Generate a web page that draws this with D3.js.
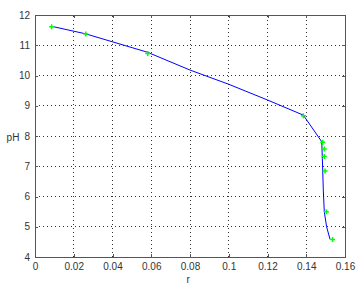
<!DOCTYPE html>
<html>
<head>
<meta charset="utf-8">
<script src="https://cdn.jsdelivr.net/npm/d3@7"></script>
<style>
body { margin: 0; background: #fff; }
svg text { font-family: "Liberation Sans", Arial, sans-serif; font-size: 10px; fill: #333; }
</style>
</head>
<body>
<div id="chart"></div>
<script>
// measured points (green markers)
var rData = [0.0086, 0.0262, 0.0582, 0.1385, 0.1485, 0.1493, 0.1493, 0.1497, 0.1504, 0.1536];
var phData = [11.61, 11.37, 10.73, 8.67, 7.79, 7.57, 7.32, 6.84, 5.50, 4.58];

// fitted curve (blue line)
var rFit = [0.009, 0.026, 0.058, 0.08, 0.1, 0.12, 0.1385, 0.148, 0.1483, 0.1488, 0.1493, 0.1505, 0.1523];
var phFit = [11.62, 11.38, 10.77, 10.18, 9.71, 9.19, 8.69, 7.81, 7.26, 6.21, 5.50, 5.0, 4.58];

var xTicks = [0, 0.02, 0.04, 0.06, 0.08, 0.1, 0.12, 0.14, 0.16];
var yTicks = [4, 5, 6, 7, 8, 9, 10, 11, 12];

var width = 357, height = 286;
var margin = {left: 35, top: 15, right: 12, bottom: 29};

var svg = d3.select("#chart").append("svg")
    .attr("width", width)
    .attr("height", height);

var x = d3.scaleLinear().domain([0, 0.16]).range([margin.left, width - margin.right]);
var y = d3.scaleLinear().domain([4, 12]).range([height - margin.bottom, margin.top]);

// grid
var grid = svg.append("g");
grid.selectAll(".vgrid")
    .data(xTicks.slice(1, -1))
    .enter().append("line")
    .attr("x1", function(d){ return x(d); })
    .attr("x2", function(d){ return x(d); })
    .attr("y1", y(4)).attr("y2", y(12))
    .attr("stroke", "#333").attr("stroke-width", 1)
    .attr("stroke-dasharray", "1,3")
    .attr("shape-rendering", "crispEdges");
grid.selectAll(".hgrid")
    .data(yTicks.slice(1, -1))
    .enter().append("line")
    .attr("y1", function(d){ return y(d); })
    .attr("y2", function(d){ return y(d); })
    .attr("x1", x(0)).attr("x2", x(0.16))
    .attr("stroke", "#333").attr("stroke-width", 1)
    .attr("stroke-dasharray", "1,3")
    .attr("shape-rendering", "crispEdges");

// axes (ticks inside, like matlab)
var xAxis = svg.append("g")
    .attr("transform", "translate(0," + y(4) + ")")
    .call(d3.axisBottom(x).tickValues(xTicks).tickSizeInner(-3).tickSizeOuter(0).tickPadding(6)
        .tickFormat(function(d){ return d3.format("")(+d.toFixed(2)); }));
var yAxis = svg.append("g")
    .attr("transform", "translate(" + x(0) + ",0)")
    .call(d3.axisLeft(y).tickValues(yTicks).tickSizeInner(-3).tickSizeOuter(0).tickPadding(5));
var xTop = svg.append("g")
    .attr("transform", "translate(0," + y(12) + ")")
    .call(d3.axisTop(x).tickValues(xTicks).tickSizeInner(-3).tickSizeOuter(0).tickFormat(""));
var yRight = svg.append("g")
    .attr("transform", "translate(" + x(0.16) + ",0)")
    .call(d3.axisRight(y).tickValues(yTicks).tickSizeInner(-3).tickSizeOuter(0).tickFormat(""));

[xAxis, yAxis, xTop, yRight].forEach(function(a){
    a.selectAll("path, line").attr("stroke", "#555").attr("shape-rendering", "crispEdges");
    a.selectAll("text").style("font-family", "'Liberation Sans', Arial, sans-serif")
        .style("font-size", "10px").attr("fill", "#333");
});

// axis labels
svg.append("text").attr("x", 13).attr("y", y(7.85)).attr("text-anchor", "middle")
    .style("font-size", "10px").attr("fill", "#000").text("pH");
svg.append("text").attr("x", x(0.079)).attr("y", 283).attr("text-anchor", "middle")
    .style("font-size", "10px").attr("fill", "#000").text("r");

// fitted line
var fitPts = rFit.map(function(r, i){ return [r, phFit[i]]; });
var line = d3.line()
    .x(function(d){ return x(d[0]); })
    .y(function(d){ return y(d[1]); });
svg.append("path")
    .datum(fitPts)
    .attr("d", line)
    .attr("fill", "none")
    .attr("stroke", "#0000ff")
    .attr("stroke-width", 1);

// markers
var pts = rData.map(function(r, i){ return [r, phData[i]]; });
svg.selectAll(".mk")
    .data(pts)
    .enter().append("path")
    .attr("d", function(d){
        var cx = x(d[0]), cy = y(d[1]);
        return "M" + (cx - 2.5) + "," + cy + "H" + (cx + 2.5) + "M" + cx + "," + (cy - 2.5) + "V" + (cy + 2.5);
    })
    .attr("stroke", "#00ff00")
    .attr("stroke-width", 1.5);
</script>
</body>
</html>
